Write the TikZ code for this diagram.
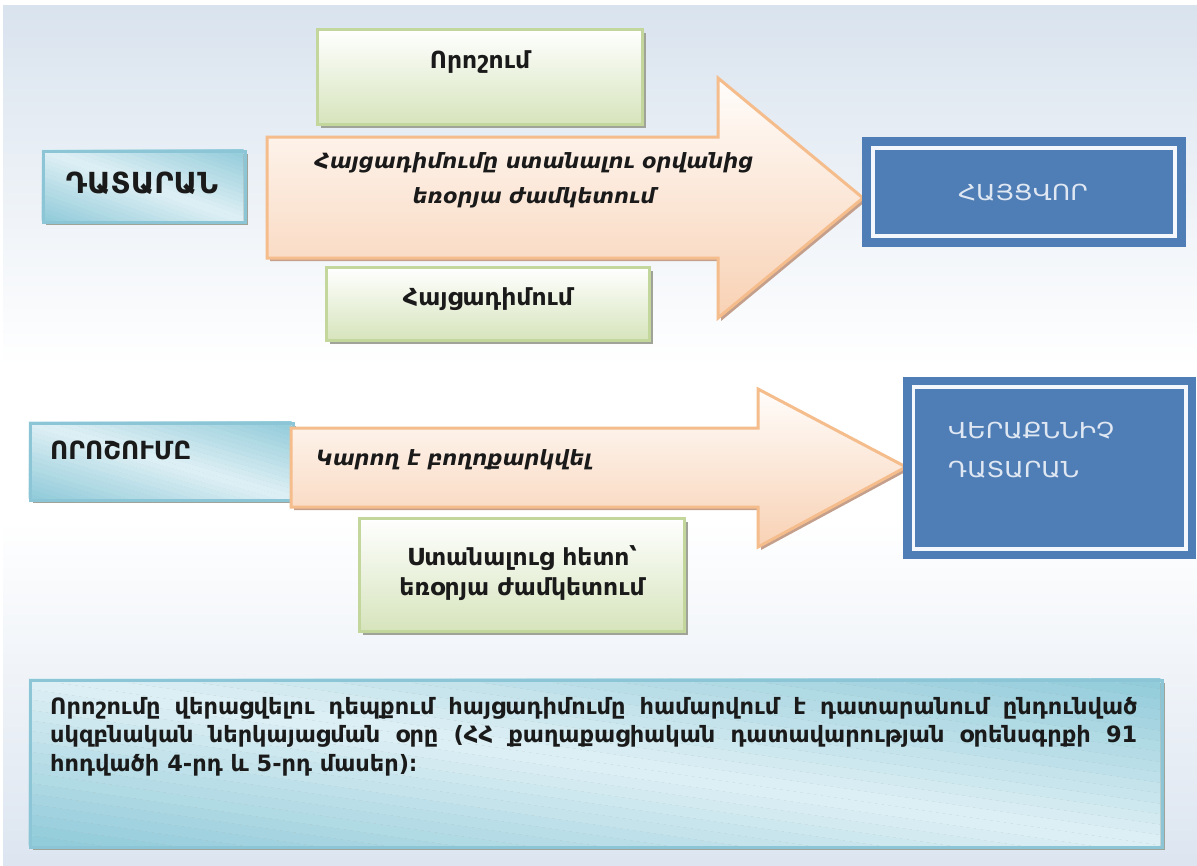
\documentclass[tikz,border=0pt]{standalone}
\usepackage{fontspec}
\setmainfont{DejaVu Sans}
\newfontfamily\widefont{DejaVu Sans}[FakeStretch=1.15]
\usetikzlibrary{shadows}

\definecolor{bgTop}{RGB}{217,227,238}
\definecolor{bgBot}{RGB}{220,229,240}
\definecolor{tealDark}{RGB}{144,202,217}
\definecolor{tealLight}{RGB}{222,240,245}
\definecolor{tealLine}{RGB}{140,197,213}
\definecolor{greenBot}{RGB}{214,228,188}
\definecolor{greenLine}{RGB}{195,214,155}
\definecolor{peachTop}{RGB}{255,253,251}
\definecolor{peachBot}{RGB}{248,209,180}
\definecolor{peachLine}{RGB}{245,188,140}
\definecolor{officeBlue}{RGB}{79,125,181}
\definecolor{paleText}{RGB}{222,231,242}
\definecolor{inkText}{RGB}{26,26,26}
\definecolor{greyShadow}{RGB}{160,164,152}
\definecolor{peachShadow}{RGB}{196,160,140}

% page background: blue-grey at top and bottom, white band in the middle
% (a path's box is mapped onto the 25bp..75bp part of a shading)
\pgfdeclareverticalshading{pagebg}{100bp}{color(0bp)=(bgBot); color(25bp)=(bgBot);
  color(45bp)=(white); color(54bp)=(white); color(75bp)=(bgTop); color(100bp)=(bgTop)}

\tikzset{
  boxshadow/.style={drop shadow={shadow xshift=3pt,shadow yshift=-3pt,fill=#1,opacity=1}},
  tealframe/.style={draw=tealLine, line width=3pt, inner sep=0pt, anchor=north west},
  greenbox/.style={draw=greenLine, line width=3pt, top color=white, bottom color=greenBot,
    boxshadow=greyShadow, inner sep=0pt},
  bluebox/.style={fill=officeBlue, draw=none, inner sep=0pt},
  innerframe/.style={draw=white!94!officeBlue, line width=3.5pt},
  arrowshape/.style={draw=peachLine, line width=3pt, top color=peachTop, bottom color=peachBot,
    boxshadow=peachShadow},
  label/.style={inner sep=0pt, anchor=base, text=inkText, font=\bfseries\fontsize{23.5}{28}\selectfont},
  slanted/.style={inner sep=0pt, anchor=base, text=inkText, font=\bfseries\itshape\fontsize{21}{28}\selectfont},
  caps/.style={inner sep=0pt, anchor=base, text=inkText, font=\bfseries\fontsize{29}{30}\selectfont},
  bluetext/.style={inner sep=0pt, anchor=base, text=paleText, font=\widefont\fontsize{22}{30}\selectfont},
}

% Teal panel: shadow, diagonal colour bands (dark at the upper right and
% lower left corners, light along the other diagonal), then the framed node.
% #1 name, #2/#3 upper left corner, #4 width, #5 height
\newcommand{\tealpanel}[5]{%
  \fill[greyShadow] (#2+4,#3+4) rectangle ++(#4,#5);
  \begin{scope}
    \clip (#2,#3) rectangle ++(#4,#5);
    \foreach \i in {-16,...,15}{%
      \pgfmathsetmacro{\ka}{\i/16*#4}%
      \pgfmathsetmacro{\kb}{(\i+1)/16*#4+1}%
      \pgfmathtruncatemacro{\mixval}{round(100*abs(\i+0.5)/16)}%
      \fill[tealDark!\mixval!tealLight]
        (#2+\ka-0.1*#4,#3-0.1*#5) -- (#2+\kb-0.1*#4,#3-0.1*#5)
        -- (#2+\kb+1.1*#4,#3+1.1*#5) -- (#2+\ka+1.1*#4,#3+1.1*#5) -- cycle;
    }
  \end{scope}
  \node[tealframe, minimum width=#4pt, minimum height=#5pt] (#1) at (#2,#3) {};
}

\begin{document}
\begin{tikzpicture}[x=1pt,y=-1pt]
\useasboundingbox (0,0) rectangle (1197,865);
\fill[white] (0,0) rectangle (1197,865);
\shade[shading=pagebg] (3,5) rectangle (1197,865);

% ---------- upper row ----------
\node[greenbox, minimum width=325pt, minimum height=95pt] (decision) at (480,77) {};
\tealpanel{court}{41.5}{149.5}{202}{71}
\node[greenbox, minimum width=323pt, minimum height=73pt] (claim) at (488,304) {};

\path[arrowshape] (267,137) -- (718,137) -- (718,78) -- (863,198) -- (718,318)
  -- (718,258) -- (267,258) -- cycle;

\node[bluebox, minimum width=324pt, minimum height=110pt] (answer) at (1024,192) {};
\draw[innerframe] ([shift={(11,11)}]answer.north west) rectangle ([shift={(-11,-11)}]answer.south east);

\node[label] (decisionText) at (480,68) {Որոշում};
\node[caps] (courtText) at (142,193) {ԴԱՏԱՐԱՆ};
\node[slanted] (termText1) at (534,168) {Հայցադիմումը ստանալու օրվանից};
\node[slanted] (termText2) at (534,203) {եռօրյա ժամկետում};
\node[label] (claimText) at (488,305) {Հայցադիմում};
\node[bluetext] (answerText) at (1023,200) {ՀԱՅՑՎՈՐ};

% ---------- lower row ----------
\tealpanel{ruling}{28.5}{421.5}{263}{77}
\path[arrowshape] (291,428) -- (758,428) -- (758,389) -- (906,467) -- (758,547)
  -- (758,507) -- (291,507) -- cycle;
\node[greenbox, minimum width=325pt, minimum height=113pt] (after) at (522,575) {};

\node[bluebox, minimum width=293pt, minimum height=182pt] (appeal) at (1049.5,468) {};
\draw[innerframe] ([shift={(10.5,10)}]appeal.north west) rectangle ([shift={(-10,-10)}]appeal.south east);

\node[caps, font=\bfseries\fontsize{25}{30}\selectfont, anchor=base west] (rulingText) at (50,459) {ՈՐՈՇՈՒՄԸ};
\node[slanted, anchor=base west] (appealable) at (316,465) {Կարող է բողոքարկվել};
\node[label] (afterText1) at (522,565) {Ստանալուց հետո՝};
\node[label] (afterText2) at (522,595) {եռօրյա ժամկետում};
\node[bluetext, anchor=base west] (appealText1) at (948,438) {ՎԵՐԱՔՆՆԻՉ};
\node[bluetext, anchor=base west] (appealText2) at (948,477) {ԴԱՏԱՐԱՆ};

% ---------- note ----------
\tealpanel{note}{28.5}{678.5}{1132}{167}
\node[label, font=\bfseries\fontsize{22.5}{28.5}\selectfont, text width=1087pt, align=justify,
  anchor=north west] (noteText) at (50,697)
  {Որոշումը վերացվելու դեպքում հայցադիմումը համարվում է դատարանում ընդունված\linebreak
   սկզբնական ներկայացման օրը (ՀՀ քաղաքացիական դատավարության օրենսգրքի 91\linebreak
   հոդվածի 4-րդ և 5-րդ մասեր)։};
\end{tikzpicture}
\end{document}
